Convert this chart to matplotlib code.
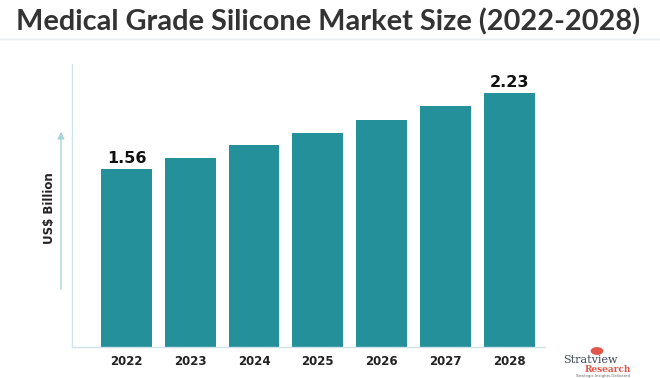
import matplotlib
matplotlib.use("Agg")
import matplotlib.pyplot as plt
from matplotlib.lines import Line2D
from matplotlib.patches import FancyArrowPatch, Circle

years = ["2022", "2023", "2024", "2025", "2026", "2027", "2028"]
values = [1.56, 1.66, 1.77, 1.88, 1.99, 2.11, 2.23]
labels = ["1.56", "", "", "", "", "", "2.23"]
title = "Medical Grade Silicone Market Size (2022-2028)"
ylabel = "US$ Billion"

W, H = 660, 378
fig = plt.figure(figsize=(W / 100, H / 100), dpi=100)
fig.patch.set_facecolor("white")

def fx(px):
    return px / W

def fy(py):
    return 1 - py / H

ax = fig.add_axes([fx(71.7), fy(347), fx(545) - fx(71.7), fy(64) - fy(347)])
x = list(range(len(years)))
bars = ax.bar(x, values, width=0.795, color="#23909a", zorder=2)
ax.set_xlim(-0.858, 6.56)
ax.set_ylim(0, 2.482)

for b, lab in zip(bars, labels):
    if lab:
        ax.text(b.get_x() + b.get_width() / 2, b.get_height() + 0.025, lab,
                ha="center", va="bottom", fontsize=11.5, fontweight="bold",
                color="#111111", family="DejaVu Sans")

ax.set_xticks(x)
ax.set_xticklabels(years, fontsize=8.5, fontweight="bold", color="#222222")
ax.tick_params(axis="x", length=0, pad=6)
ax.set_yticks([])
for s in ["top", "right"]:
    ax.spines[s].set_visible(False)
for s in ["left", "bottom"]:
    ax.spines[s].set_color("#cfe4e6")
    ax.spines[s].set_linewidth(1.0)

# Title
fig.text(fx(328.5), fy(22), title, ha="center", va="center", fontsize=20.8,
         fontweight="bold", color="#333333", family="Lato")
fig.add_artist(Line2D([0, 1], [fy(39), fy(39)], color="#e3eeee", lw=1.0))

# Y axis arrow and label
fig.add_artist(FancyArrowPatch(
    (fx(61), fy(292)), (fx(61), fy(129)), transform=fig.transFigure,
    arrowstyle="-|>,head_length=4,head_width=2", color="#a9d3d6", lw=1.0))
fig.text(fx(50), fy(208), ylabel, rotation=90, ha="center", va="center",
         fontsize=8.5, fontweight="bold", color="#222222")

# Logo
fig.add_artist(Circle((fx(597), fy(351)), 0.0085, transform=fig.transFigure,
                      color="#e0564a"))
fig.text(fx(590), fy(360), "Stratview", ha="center", va="center", fontsize=8,
         family="DejaVu Serif", color="#3d4a5c")
fig.text(fx(608), fy(369.5), "Research", ha="center", va="center", fontsize=6.5,
         family="DejaVu Serif", fontweight="bold", color="#e0564a")
fig.text(fx(603), fy(375.5), "Strategic Insights Delivered", ha="center", va="center",
         fontsize=2.8, color="#666666")

fig.savefig("out.png", dpi=100, facecolor="white")
